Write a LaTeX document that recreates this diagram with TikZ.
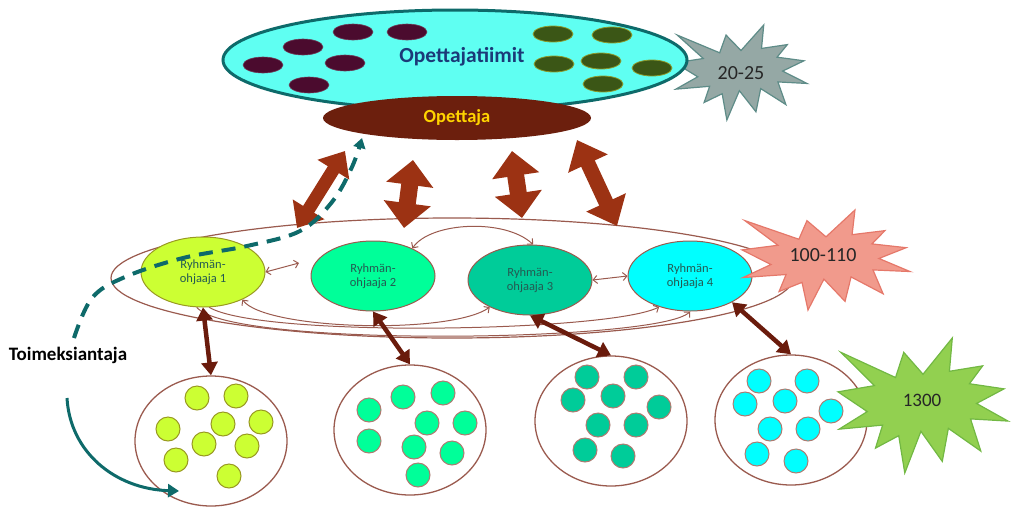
\documentclass[tikz,border=0pt]{standalone}
\usepackage{fontspec}
\setmainfont{Carlito}
\usetikzlibrary{arrows.meta,shapes.geometric}
\definecolor{cyanfill}{HTML}{5FFFF2}
\definecolor{tealdark}{HTML}{0E6A6A}
\definecolor{maroondot}{HTML}{4B0B2E}
\definecolor{olivedot}{HTML}{3B5616}
\definecolor{olivedraw}{HTML}{8C9A2C}
\definecolor{opbrown}{HTML}{6C1F0D}
\definecolor{navytext}{HTML}{1B3A78}
\definecolor{goldtext}{HTML}{FFD400}
\definecolor{rust}{HTML}{9C3213}
\definecolor{darkbrown}{HTML}{6A1B0C}
\definecolor{thinbrown}{HTML}{9A5A4E}
\definecolor{rtext}{HTML}{245A52}
\definecolor{gA}{HTML}{CCFF33}
\definecolor{gAd}{HTML}{999922}
\definecolor{gB}{HTML}{00FF99}
\definecolor{gC}{HTML}{00CC99}
\definecolor{gD}{HTML}{00FFFF}
\definecolor{burstgray}{HTML}{95A8A5}
\definecolor{burstgrayd}{HTML}{5E8C88}
\definecolor{burstred}{HTML}{F19A8C}
\definecolor{burstredd}{HTML}{E5786A}
\definecolor{burstgreen}{HTML}{92D050}
\definecolor{burstgreend}{HTML}{72B843}
\definecolor{numtext}{HTML}{262626}
\newcommand{\explosion}[6]{%
  \filldraw[fill=#5,draw=#6,line width=1.2pt,line join=miter,shift={(#1,#2)},xscale=#3/100,yscale=#4/100]
  (50,26.85)--(67.23,0)--(65.53,24.65)--(85.09,20.63)--(77.32,33.87)--(97.67,37.67)--(81.51,48.50)--(100,61.53)--(77.95,59.92)--(84.00,83.77)--(64.91,66.93)--(61.33,91.38)--(48.76,69.14)--(39.28,100)--(35.72,72.35)--(22.05,81.56)--(26.24,64.52)--(0.63,67.53)--(17.23,54.51)--(0,39.88)--(21.42,35.26)--(1.71,10.63)--(33.85,29.26)--(38.67,10.63)--cycle;}
\tikzset{
  teamdot/.style={ellipse,minimum width=40pt,minimum height=16pt,inner sep=0pt},
  maroonteam/.style={teamdot,fill=maroondot,draw=maroondot!80!white,line width=0.6pt},
  oliveteam/.style={teamdot,fill=olivedot,draw=olivedraw,line width=0.8pt},
  rnode/.style={ellipse,minimum width=124pt,minimum height=70pt,inner sep=0pt,draw=thinbrown,line width=1pt,
    font=\fontsize{12.5}{13.5}\selectfont,text=rtext,align=center},
  member/.style={circle,minimum size=24pt,inner sep=0pt,line width=1pt},
  groupring/.style={ellipse,draw=thinbrown,line width=1.3pt,minimum width=152pt,minimum height=130pt,inner sep=0pt},
  blockarrow/.style={rust,line width=#1},
  kidarrow/.style={darkbrown,line width=4.5pt,{Triangle[width=16pt,length=13pt]}-{Triangle[width=16pt,length=13pt]}},
  thinarrow/.style={thinbrown,line width=1pt},
  numlabel/.style={text=numtext,font=\fontsize{20}{22}\selectfont,inner sep=0pt}
}
\begin{document}
\begin{tikzpicture}[x=1pt,y=-1pt]
\useasboundingbox (0,0) rectangle (1011,509);
% ---- top: teams
\explosion{675}{25}{132}{95}{burstgray}{burstgrayd}
\node[numlabel] (n2025) at (741,73) {20-25};
\node[ellipse,minimum width=464pt,minimum height=100pt,inner sep=0pt,fill=cyanfill,draw=tealdark,line width=3pt] (teams) at (455,60) {};
\foreach \x/\y [count=\i] in {353/32,407/32,303/47,263/65,345/63,309/85}
  \node[maroonteam] (m\i) at (\x,\y) {};
\foreach \x/\y [count=\i] in {553/34,612/35,554/64,601/61,652/68,603/84}
  \node[oliveteam] (o\i) at (\x,\y) {};
\node[text=navytext,font=\bfseries\fontsize{21.5}{23}\selectfont,inner sep=0pt] (teamtext) at (462,57) {Opettajatiimit};
\node[ellipse,minimum width=268pt,minimum height=44pt,inner sep=0pt,fill=opbrown] (op) at (457,118) {};
\node[text=goldtext,font=\bfseries\fontsize{18.5}{20}\selectfont,inner sep=0pt] (optext) at (457,118) {Opettaja};
% ---- middle band
\node[ellipse,draw=thinbrown,line width=1.2pt,minimum width=682pt,minimum height=120pt,inner sep=0pt] (band) at (452,278) {};
% block arrows
\coordinate (a1s) at (297,228); \coordinate (a1e) at (345,151);
\coordinate (a2s) at (404,228); \coordinate (a2e) at (413,160);
\coordinate (a3s) at (522,218); \coordinate (a3e) at (512,151);
\coordinate (a4s) at (617,226); \coordinate (a4e) at (577,140);
\draw[blockarrow=13pt,{Triangle[width=36pt,length=22pt]}-{Triangle[width=36pt,length=22pt]}] (a1s) -- (a1e);
\draw[blockarrow=17pt,{Triangle[width=46pt,length=25pt]}-{Triangle[width=46pt,length=25pt]}] (a2s) -- (a2e);
\draw[blockarrow=17pt,{Triangle[width=46pt,length=25pt]}-{Triangle[width=46pt,length=25pt]}] (a3s) -- (a3e);
\draw[blockarrow=15pt,{Triangle[width=42pt,length=26pt]}-{Triangle[width=42pt,length=26pt]}] (a4s) -- (a4e);
% group leaders
\node[rnode,fill=gA,draw=gAd] (r1) at (203,272) {Ryhmän-\\ohjaaja 1};
\node[rnode,fill=gB] (r2) at (373,276) {Ryhmän-\\ohjaaja 2};
\node[rnode,fill=gC] (r3) at (530,280) {Ryhmän-\\ohjaaja 3};
\node[rnode,fill=gD] (r4) at (690,276) {Ryhmän-\\ohjaaja 4};
\explosion{742}{210}{168}{100}{burstred}{burstredd}
\node[numlabel] (n100) at (823,255) {100-110};
% thin connectors
\coordinate (r12end) at (299,263);
\draw[thinarrow,{Straight Barb[length=4pt,width=8pt]}-{Straight Barb[length=4pt,width=8pt]}] (r1.east) -- (r12end);
\draw[thinarrow,{Straight Barb[length=4pt,width=8pt]}-{Straight Barb[length=4pt,width=8pt]}] (r3.east) -- (r4.west);
\draw[thinarrow,{Straight Barb[length=4pt,width=8pt]}-{Straight Barb[length=4pt,width=8pt]}] (r2.35) .. controls (430,222) and (505,218) .. (r3.85);
\draw[thinarrow,{Straight Barb[length=4pt,width=8pt]}-{Straight Barb[length=4pt,width=8pt]}] (r1.-35) .. controls (265,330) and (450,335) .. (r3.-146);
\draw[thinarrow,-{Straight Barb[length=4pt,width=8pt]}] (r1.-80) .. controls (260,338) and (610,332) .. (r4.-135);
\draw[thinarrow,-{Straight Barb[length=4pt,width=8pt]}] (r1.-100) .. controls (230,348) and (660,342) .. (r4.south);
% ---- bottom groups
\node[groupring] (g1) at (211,441) {};
\node[groupring] (g2) at (410,430) {};
\node[groupring] (g3) at (611,421) {};
\node[groupring] (g4) at (791,420) {};
\foreach \x/\y [count=\i] in {197/398,236/396,168/429,223/424,261/422,204/444,247/446,176/460,229/476}
  \node[member,fill=gA,draw=gAd] (g1m\i) at (\x,\y) {};
\foreach \x/\y [count=\i] in {369/410,403/397,443/393,427/423,465/423,369/441,414/447,452/453,418/475}
  \node[member,fill=gB,draw=thinbrown!80] (g2m\i) at (\x,\y) {};
\foreach \x/\y [count=\i] in {587/377,636/377,573/400,613/396,659/407,598/425,636/425,585/450,623/456}
  \node[member,fill=gC,draw=thinbrown!80] (g3m\i) at (\x,\y) {};
\foreach \x/\y [count=\i] in {759/381,807/381,745/404,785/401,831/411,770/429,808/429,757/454,796/461}
  \node[member,fill=gD,draw=thinbrown!80] (g4m\i) at (\x,\y) {};
\explosion{838}{338}{170}{135}{burstgreen}{burstgreend}
\node[numlabel,font=\fontsize{19}{21}\selectfont] (n1300) at (922,400) {1300};
\draw[kidarrow] (r1.south) -- (g1.north);
\draw[kidarrow] (r2.south) -- (g2.north);
\draw[kidarrow] (r3.south) -- (g3.north);
\draw[kidarrow] (r4.-32) -- (g4.north);
% ---- Toimeksiantaja
\node[font=\bfseries\fontsize{19}{21}\selectfont,inner sep=0pt] (toim) at (68,355) {Toimeksiantaja};
\coordinate (dstart) at (74,338);
\coordinate (dend) at (362,138);
\draw[tealdark,line width=4pt,dash pattern=on 14pt off 9pt,-{Triangle[width=12pt,length=10pt]}]
  plot[smooth,tension=0.6] coordinates {(dstart) (92,298) (125,277) (183,258) (247,246) (300,231) (332,202) (352,167) (dend)};
\coordinate (sstart) at (67,398);
\coordinate (send) at (179,491);
\draw[tealdark,line width=3pt,-{Triangle[width=13pt,length=11pt]}] (sstart) .. controls (70,452) and (115,489) .. (send);
\end{tikzpicture}
\end{document}
